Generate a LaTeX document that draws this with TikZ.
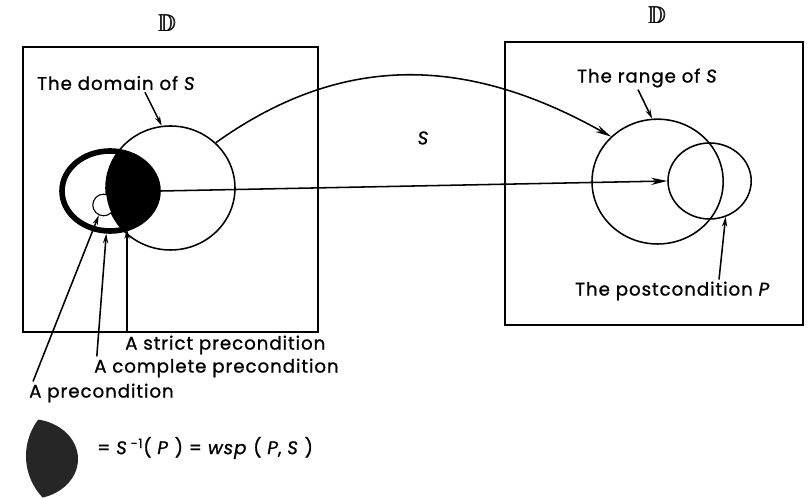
\documentclass[tikz,border=0pt]{standalone}
\usepackage{fontspec}
\usepackage{amssymb}
\usetikzlibrary{arrows.meta,shapes.geometric,positioning}
\newfontfamily\lettering{Poppins}[LetterSpace=5, FakeBold=1]
\newcommand{\universe}{\rlap{$\mathbb{D}$}\kern0.5pt$\mathbb{D}$}
\tikzset{every picture/.style={line width=1.1pt}}

\begin{document}
\begin{tikzpicture}[
    set/.style={draw, ellipse, inner sep=0pt},
    lbl/.style={font=\lettering\fontsize{13}{15}\selectfont, inner sep=1pt},
    tip/.style={-{Stealth[length=2.4mm,width=1.3mm]}},
    maparrow/.style={-{Stealth[length=4mm,width=1.8mm]}},
  ]
    \useasboundingbox (0,0) rectangle (20.225,12.45);

    % The two universes
    \draw (0.575,4.15) rectangle (7.95,11.275);
    \draw (12.625,4.325) rectangle (20.075,11.4);
    \node[font=\LARGE] (dleft) at (4.175,11.875) {\universe};
    \node[font=\LARGE] (dright) at (16.425,12.075) {\universe};

    % Domain side
    \node[set, minimum width=3.225cm, minimum height=3.1cm] (dom) at (4.2625,7.75) {};
    \node[set, fill=white, line width=0.8pt, minimum size=0.54cm] (sm) at (2.59,7.325) {};
    \begin{scope}
        \clip (4.2625,7.75) ellipse [x radius=1.6125, y radius=1.55];
        \fill (2.75,7.675) ellipse [x radius=1.2, y radius=1.0];
    \end{scope}
    \node[set, line width=4pt, minimum width=2.4cm, minimum height=2.0cm] (pre) at (2.75,7.675) {};
    \coordinate (lensbot) at (3.175,6.72);

    % Range side
    \node[set, minimum width=3.28cm, minimum height=3.12cm] (rng) at (16.44,7.91) {};
    \node[set, minimum width=2.08cm, minimum height=1.9cm] (post) at (17.74,7.925) {};

    % The map S
    \draw[maparrow] (dom.45) .. controls (8.5,11.1) and (11.6,11.1) .. (rng.136);
    \draw[maparrow] (pre.east) -- (post.west);
    \node[lbl] (smap) at (10.575,9.0) {\itshape S};

    % Labels
    \node[lbl, anchor=west] (dlab) at (0.875,10.375) {The domain of \textit{S}};
    \node[lbl, anchor=west] (rlab) at (14.375,10.5) {The range of \textit{S}};
    \node[lbl, anchor=west] (plab) at (14.325,5.175) {The postcondition \textit{P}};
    \node[lbl, anchor=west] (scl) at (3.075,3.825) {A strict precondition};
    \node[lbl, anchor=west] (ccl) at (2.3,3.25) {A complete\ precondition};
    \node[lbl, anchor=west] (pcl) at (0.675,2.625) {A precondition};

    \draw[tip] ([xshift=2.75cm]dlab.south west) -- (dom.98);
    \draw[tip] ([xshift=1.575cm]rlab.south west) -- (rng.95);
    \draw[tip] ([xshift=3.65cm]plab.north west) -- (post.-66);
    \draw[tip] ([xshift=0.1cm]scl.north west) -- (lensbot);
    \draw[tip] ([xshift=0.12cm]ccl.north west) -- (pre.-95);
    \draw[tip] ([xshift=0.15cm]pcl.north west) -- (sm.-115);

    % Legend
    \begin{scope}[shift={(-2.0,-6.7)}]
        \clip (4.2625,7.75) ellipse [x radius=1.6125, y radius=1.55];
        \fill[black!85] (2.75,7.675) ellipse [x radius=1.2, y radius=1.0];
    \end{scope}
    \node[lbl, anchor=west] (formula) at (2.375,1.25)
        {= \textit{S}\,\textsuperscript{-1}( \textit{P} ) = \textit{wsp} ( \textit{P}, \textit{S} )};
\end{tikzpicture}
\end{document}
